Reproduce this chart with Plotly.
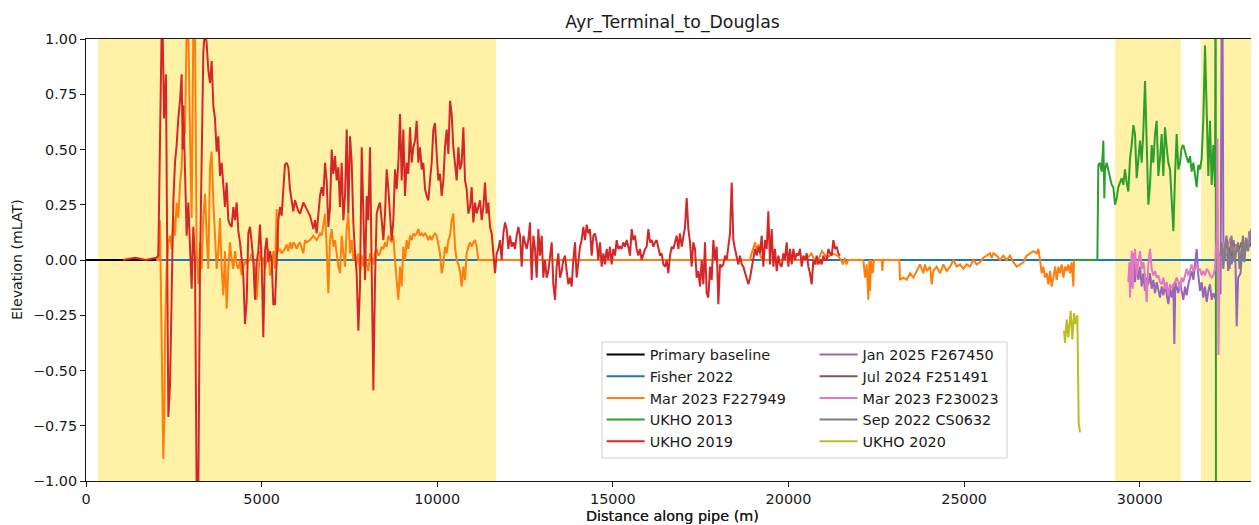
import plotly.graph_objects as go

TITLE = "Ayr_Terminal_to_Douglas"
X_LABEL = "Distance along pipe (m)"
Y_LABEL = "Elevation (mLAT)"

X_TICKS = [0, 5000, 10000, 15000, 20000, 25000, 30000]
Y_TICKS = [-1.0, -0.75, -0.5, -0.25, 0.0, 0.25, 0.5, 0.75, 1.0]

# survey sections shaded along the route (m)
SECTION_NAMES = ["S1", "M1", "S4"]
SECTION_START = [342, 29296, 31744]
SECTION_END = [11673, 31175, 33340]

# ---- survey profiles: distance (m) / elevation (mLAT) ----
BASELINE_X = [0, 33395]
BASELINE_Y = [0.0, 0.0]

FISHER_X = [2000, 33395]
FISHER_Y = [0.0, 0.0]

MAR23A_X = [
    2000, 2059, 2106, 2154, 2182, 2201, 2230, 2249, 2296, 2344,
    2391, 2439, 2486, 2533, 2581, 2628, 2676, 2723, 2771, 2818,
    2866, 2913, 2961, 3008, 3055, 3103, 3150, 3198, 3245, 3293,
    3340, 3388, 3435, 3482, 3530, 3577, 3625, 3672, 3720, 3767,
    3815, 3862, 3910, 3957, 4004, 4052, 4099, 4147, 4194, 4242,
    4289, 4337, 4384, 4431, 4479, 4526, 4574, 4621, 4669, 4716,
    4763, 4811, 4858, 4906, 4953, 5001, 5048, 5096, 5143, 5191,
    5238, 5286, 5333, 5380, 5428, 5475, 5523, 5570, 5618, 5665,
    5713, 5760, 5808, 5855, 5902, 5950, 5997, 6045,
    6093, 6188, 6235, 6283, 6378, 6473, 6568, 6662, 6710, 6757,
    6805, 6852, 6900, 6947, 6995, 7042, 7089, 7137, 7184, 7232,
    7279, 7327, 7374, 7422, 7469, 7517, 7564, 7611, 7659, 7706,
    7754, 7801, 7849, 7896, 7944, 7991, 8038, 8086, 8133, 8181,
    8228, 8276, 8323, 8371, 8418, 8466, 8513, 8560, 8608, 8655,
    8703, 8750, 8798, 8845, 8893, 8940, 8987, 9035, 9082, 9130,
    9177, 9225, 9272, 9320, 9367, 9415, 9462, 9509, 9557, 9604,
    9652, 9699, 9747, 9794, 9842, 9889, 9936, 9984, 10031, 10079,
    10126, 10174, 10221, 10269, 10316, 10364, 10411, 10458, 10506, 10553,
    10601, 10648, 10696, 10743, 10791, 10838, 10885, 10933, 10980, 11028,
    11075, 11123, 11170, 12500, 14000, 15500, 17000, 18900, 18950, 19000,
    19050, 19100, 19150, 19200, 19250, 20500, 20650, 20800, 20950, 21100,
    21250, 21400, 21500, 21550, 21600, 21650, 21700, 22131, 22179, 22226,
    22274, 22302, 22321, 22350, 22397, 22435, 22653, 22672, 22691, 23156,
    23175, 23270, 23365, 23460, 23555, 23650, 23744, 23792, 23839, 23887,
    23934, 24029, 24077, 24124, 24219, 24314, 24409, 24504, 24599, 24693,
    24788, 24883, 24978, 25073, 25168, 25263, 25358, 25453, 25548, 25642,
    25737, 25785, 25832, 25927, 26022, 26117, 26212, 26307, 26402, 26497,
    26591, 26686, 26781, 26876, 26971, 27066, 27113, 27161, 27208, 27256,
    27303, 27351, 27398, 27446, 27493, 27540, 27588, 27635, 27683, 27730,
    27778, 27825, 27873, 27920, 27967, 28015, 28062, 28110, 28129,
]
MAR23A_Y = [
    0.0, 0.0, 0.18, -0.34, -0.72, -0.90, -0.72, -0.34, -0.04, 0.08,
    0.11, 0.05, 0.20, 0.11, 0.26, 0.19, 0.34, 0.42, 0.64, 0.57,
    1.05, 1.05, 0.57, 0.19, 1.05, 1.05, 0.04, -0.11, 0.08, -0.04,
    0.19, 0.30, 0.11, -0.04, 0.42, 0.49, 0.26, 0.11, -0.04, 0.04,
    0.19, -0.04, -0.16, 0.04, -0.22, -0.04, 0.08, 0.0, -0.04, 0.04,
    -0.02, -0.04, 0.0, -0.07, -0.04, 0.0, -0.02, 0.0, 0.0, 0.03,
    0.0, -0.04, -0.18, -0.07, 0.04, 0.0, 0.01, -0.04, 0.0, 0.05,
    -0.07, -0.04, 0.04, -0.04, 0.23, 0.04, 0.05, 0.03, 0.04, 0.05,
    0.07, 0.04, 0.08, 0.05, 0.08, 0.07, 0.05, 0.07,
    0.08, 0.03, 0.09, 0.08, 0.09, 0.11, 0.09, 0.12, 0.11, 0.17,
    0.21, 0.06, -0.15, 0.09, 0.14, 0.06, 0.09, 0.03, -0.03, -0.06,
    0.11, 0.03, -0.03, 0.14, 0.21, 0.03, 0.09, 0.0, 0.03, -0.02,
    0.03, -0.06, 0.02, -0.03, 0.03, -0.02, -0.05, 0.03, 0.0, -0.02,
    0.03, 0.05, 0.02, 0.03, 0.06, 0.05, 0.08, 0.06, 0.11, 0.09,
    0.08, 0.11, 0.0, -0.09, -0.18, -0.03, -0.12, 0.06, 0.0, 0.09,
    0.05, 0.11, 0.09, 0.12, 0.11, 0.12, 0.14, 0.11, 0.12, 0.11,
    0.12, 0.11, 0.09, 0.11, 0.09, 0.11, 0.12, 0.11, 0.06, 0.03,
    -0.06, -0.02, 0.06, 0.03, 0.09, 0.11, 0.18, 0.21, 0.06, 0.0,
    -0.02, -0.05, -0.12, -0.03, -0.09, 0.03, 0.06, 0.08, 0.06, 0.08,
    0.09, 0.06, 0.0, 0.0, 0.0, 0.0, 0.0, 0.0, 0.03, 0.06,
    0.08, 0.04, 0.07, 0.02, 0.0, 0.0, 0.03, -0.02, 0.04, 0.01,
    0.03, 0.02, 0.0, -0.02, 0.01, -0.02, 0.0, 0.0, -0.08, -0.02,
    -0.18, 0.0, -0.14, 0.0, -0.06, 0.0, 0.0, -0.05, 0.0, 0.0,
    -0.09, -0.08, -0.09, -0.06, -0.08, -0.05, -0.02, -0.04, -0.06, -0.02,
    -0.05, -0.03, -0.11, -0.05, -0.03, -0.06, -0.02, -0.05, -0.03, 0.0,
    -0.03, -0.02, -0.04, -0.02, -0.03, 0.0, -0.02, -0.01, 0.01, 0.02,
    0.03, 0.01, 0.03, 0.02, 0.0, 0.02, 0.0, 0.02, -0.01, -0.03,
    -0.02, -0.01, 0.02, 0.03, 0.04, 0.03, 0.05, 0.0, -0.06, -0.03,
    -0.08, -0.06, -0.11, -0.05, -0.12, -0.08, -0.03, -0.09, -0.03, -0.06,
    -0.02, -0.08, -0.03, -0.05, -0.02, -0.06, -0.01, -0.12, 0.0,
]

UKHO13_X = [
    28140, 28793, 28821, 28869, 28916, 28964, 28992, 29011, 29059, 29106,
    29153, 29201, 29248, 29296, 29343, 29391, 29438, 29486, 29533, 29580,
    29628, 29675, 29723, 29770, 29818, 29865, 29913, 29960, 30008, 30055,
    30102, 30150, 30197, 30245, 30292, 30340, 30387, 30435, 30482, 30529,
    30577, 30624, 30672, 30719, 30767, 30814, 30862, 30909, 30957, 31004,
    31051, 31099, 31146, 31194, 31241, 31289, 31336, 31384, 31431, 31478,
    31526, 31573, 31621, 31668, 31716, 31763, 31811, 31858, 31906, 31953,
    32000, 32048, 32095, 32143, 32162, 32171,
]
UKHO13_Y = [
    0.0, 0.0, 0.43, 0.44, 0.40, 0.54, 0.28, 0.41, 0.44, 0.41,
    0.38, 0.34, 0.33, 0.25, 0.28, 0.33, 0.35, 0.37, 0.34, 0.41,
    0.35, 0.31, 0.46, 0.52, 0.61, 0.57, 0.37, 0.44, 0.54, 0.44,
    0.58, 0.81, 0.49, 0.25, 0.34, 0.52, 0.44, 0.57, 0.63, 0.38,
    0.46, 0.57, 0.38, 0.60, 0.51, 0.44, 0.41, 0.29, 0.13, 0.38,
    0.57, 0.41, 0.44, 0.51, 0.52, 0.49, 0.46, 0.44, 0.47, 0.40,
    0.44, 0.38, 0.33, 0.43, 0.41, 0.46, 0.64, 0.97, 0.72, 0.38,
    0.63, 0.34, 0.52, 0.33, 1.6, -1.6,
]

UKHO19_X = [
    1050, 1400, 1700, 2000, 2059, 2106, 2154, 2182, 2220, 2277,
    2296, 2344, 2391, 2439, 2486, 2533, 2581, 2628, 2676, 2723,
    2752, 2771, 2818, 2866, 2913, 2961, 3008, 3055, 3103, 3150,
    3198, 3245, 3293, 3340, 3388, 3435, 3482, 3530, 3577, 3625,
    3672, 3720, 3767, 3815, 3862, 3910, 3957, 4004, 4052, 4099,
    4147, 4194, 4242, 4289, 4337, 4384, 4431, 4479, 4526, 4574,
    4621, 4669, 4716, 4763, 4811, 4858, 4906, 4953, 5001, 5048,
    5096, 5143, 5191, 5238, 5286, 5333, 5380, 5428, 5475, 5523,
    5570, 5618, 5665, 5713, 5760, 5808, 5855, 5902, 5950, 5997, 6045,
    6093, 6188, 6283, 6378, 6473, 6520, 6568, 6615, 6662, 6710,
    6757, 6805, 6852, 6900, 6947, 6995, 7042, 7089, 7137, 7184,
    7232, 7279, 7327, 7374, 7422, 7469, 7517, 7564, 7611, 7659,
    7706, 7754, 7801, 7849, 7896, 7944, 7991, 8038, 8086, 8133,
    8181, 8228, 8276, 8323, 8371, 8418, 8466, 8513, 8560, 8608,
    8655, 8703, 8750, 8798, 8845, 8893, 8940, 8987, 9035, 9082,
    9130, 9177, 9225, 9272, 9320, 9367, 9415, 9462, 9509, 9557,
    9604, 9652, 9699, 9747, 9794, 9842, 9889, 9936, 9984, 10031,
    10079, 10126, 10174, 10221, 10269, 10316, 10364, 10411, 10458, 10506,
    10553, 10601, 10648, 10696, 10743, 10791, 10838, 10885, 10933, 10980,
    11028, 11075, 11123, 11170, 11218, 11265, 11313, 11360, 11407, 11455,
    11502, 11550, 11597, 11645, 11692, 11740,
    11787, 11834, 11882, 11929, 11977, 12024, 12071, 12119, 12166, 12214,
    12261, 12309, 12356, 12404, 12451, 12498, 12546, 12593, 12641, 12688,
    12736, 12783, 12831, 12878, 12925, 12973, 13020, 13068, 13115, 13163,
    13210, 13258, 13305, 13353, 13400, 13447, 13495, 13542, 13590, 13637,
    13685, 13732, 13780, 13827, 13874, 13922, 13969, 14017, 14064, 14112,
    14159, 14207, 14254, 14302, 14349, 14396, 14444, 14491, 14539, 14586,
    14634, 14681, 14729, 14776, 14823, 14871, 14918, 14966, 15013, 15061,
    15108, 15156, 15203, 15250, 15298, 15345, 15393, 15440, 15488, 15535,
    15583, 15630, 15678, 15725, 15772, 15820, 15867, 15915, 15962, 16010,
    16057, 16105, 16152, 16200, 16247, 16294, 16342, 16389, 16437, 16484,
    16532, 16579, 16627, 16674, 16721, 16769, 16816, 16864, 16911, 16959,
    17006, 17054, 17101, 17149, 17196, 17243, 17291, 17338, 17386, 17433,
    17481, 17528, 17576, 17623, 17671, 17718, 17766, 17813, 17861, 17908,
    17956, 18003, 18050, 18098, 18145, 18193, 18240, 18288, 18335, 18383,
    18430, 18477, 18525, 18572, 18620, 18667, 18715, 18762, 18810, 18857,
    18905, 18952, 18999, 19047, 19094, 19142, 19189, 19237, 19284, 19332,
    19379, 19426, 19474, 19521, 19569, 19616, 19664, 19711, 19758, 19806,
    19853, 19901, 19948, 19996, 20043, 20091, 20138, 20186, 20233, 20280,
    20328, 20375, 20423, 20470, 20518, 20565, 20613, 20660, 20708, 20755,
    20802, 20850, 20897, 20945, 20992, 21040, 21087, 21135, 21182, 21230,
    21277, 21324, 21372, 21419, 21467,
]
UKHO19_Y = [
    0.0, 0.01, 0.0, 0.01, 0.02, 0.45, 1.05, 1.05, 0.64, 0.84,
    0.42, -0.71, -0.57, -0.04, 0.26, 0.44, 0.52, 0.64, 0.72, 0.84,
    0.50, 0.70, 0.42, 0.11, 0.26, 0.04, -0.13, 0.15, 0.0, -1.05,
    -1.05, -0.04, 0.50, 0.94, 1.05, 0.98, 0.86, 0.80, 0.90, 0.70,
    0.64, 0.49, 0.56, 0.38, 0.44, 0.34, 0.24, 0.35, 0.18, 0.16,
    0.15, 0.24, 0.18, 0.26, 0.13, 0.08, 0.0, -0.07, -0.29, -0.19,
    0.12, 0.15, 0.08, 0.0, -0.18, -0.01, 0.04, 0.16, 0.0, -0.35,
    0.04, 0.10, -0.01, 0.04, 0.0, -0.20, -0.20, 0.0, 0.18, 0.24,
    0.20, 0.32, 0.43, 0.44, 0.42, 0.32, 0.27, 0.22, 0.27, 0.25, 0.22,
    0.21, 0.26, 0.23, 0.20, 0.14, 0.18, 0.12, 0.21, 0.29, 0.33,
    0.29, 0.44, 0.36, 0.15, 0.24, 0.50, 0.39, 0.47, 0.36, 0.42,
    0.24, 0.44, 0.18, 0.29, 0.59, 0.21, 0.56, 0.44, 0.17, 0.03,
    -0.06, -0.32, -0.12, 0.51, 0.18, -0.09, 0.29, 0.18, 0.51, -0.09,
    -0.59, -0.09, 0.21, 0.24, 0.26, 0.18, 0.09, 0.21, 0.41, 0.32,
    0.21, 0.09, 0.18, 0.41, 0.32, 0.44, 0.66, 0.36, 0.59, 0.29,
    0.44, 0.39, 0.60, 0.44, 0.51, 0.54, 0.63, 0.44, 0.51, 0.41,
    0.44, 0.32, 0.29, 0.27, 0.36, 0.44, 0.59, 0.62, 0.48, 0.36,
    0.39, 0.29, 0.36, 0.51, 0.59, 0.48, 0.72, 0.66, 0.51, 0.44,
    0.36, 0.51, 0.41, 0.44, 0.60, 0.36, 0.32, 0.21, 0.24, 0.33,
    0.17, 0.26, 0.21, 0.24, 0.27, 0.18, 0.24, 0.35, 0.21, 0.26,
    0.15, 0.12, 0.03, -0.06, 0.03, 0.05,
    0.09, 0.0, 0.12, 0.17, 0.14, 0.05, 0.11, 0.06, 0.08, 0.05,
    0.11, 0.15, 0.11, -0.03, 0.11, 0.08, 0.05, 0.09, 0.17, -0.09,
    0.11, 0.05, -0.08, 0.14, 0.02, 0.11, -0.08, 0.0, -0.08, -0.05,
    0.02, 0.08, -0.11, -0.18, -0.03, 0.03, -0.08, -0.05, 0.0, 0.02,
    -0.05, -0.11, -0.08, -0.12, 0.0, 0.08, -0.08, 0.0, 0.06, 0.09,
    0.15, 0.09, 0.16, 0.12, 0.14, 0.02, 0.11, 0.12, 0.08, 0.0,
    0.08, -0.03, 0.03, -0.02, 0.05, 0.0, 0.06, -0.02, 0.05, 0.02,
    0.09, 0.05, 0.06, 0.05, 0.08, 0.06, 0.09, 0.06, 0.02, 0.14,
    0.09, 0.11, 0.05, 0.02, 0.05, 0.0, 0.02, 0.05, 0.06, 0.14,
    0.08, 0.09, 0.06, 0.08, 0.09, 0.05, 0.02, 0.03, -0.02, -0.03,
    0.0, -0.06, 0.02, 0.06, 0.05, 0.08, 0.11, 0.05, 0.12, 0.06,
    0.11, 0.15, 0.28, 0.14, 0.08, -0.03, 0.08, 0.05, -0.08, -0.05,
    -0.12, 0.0, -0.11, 0.08, -0.15, -0.17, -0.03, -0.09, 0.09, 0.0,
    0.06, -0.20, -0.02, -0.03, -0.02, 0.02, 0.0, 0.05, 0.12, 0.35,
    0.09, 0.05, 0.02, -0.02, 0.02, -0.02, -0.03, -0.06, -0.09, -0.11,
    -0.08, -0.03, 0.0, 0.05, 0.02, 0.06, 0.03, 0.11, -0.03, 0.09,
    0.05, 0.22, -0.02, 0.14, -0.03, 0.05, -0.05, 0.02, -0.02, -0.03,
    0.03, 0.0, 0.08, -0.03, 0.05, -0.02, 0.05, 0.0, 0.03, 0.02,
    0.05, -0.03, 0.02, 0.0, 0.03, -0.03, -0.06, -0.11, 0.0, -0.02,
    0.02, -0.02, 0.0, -0.02, 0.02, 0.0, 0.0, 0.05, 0.03, 0.02,
    0.09, 0.05, 0.06, 0.03, 0.02,
]

JAN25_X = [
    29723, 29770, 29818, 29865, 29913, 29960, 30008, 30055, 30102, 30150,
    30197, 30245, 30292, 30340, 30387, 30435, 30482, 30529, 30577, 30624,
    30672, 30719, 30767, 30814, 30862, 30909, 30957, 30985, 31013, 31051,
    31099, 31146, 31194, 31241, 31289, 31336, 31384, 31431, 31478, 31526,
    31573, 31621, 31668, 31716, 31763, 31811, 31858, 31906, 31953, 32000,
    32048, 32095, 32143, 32300, 32345, 32380, 32420, 32470, 32520, 32570,
    32620, 32670, 32720, 32760, 32800, 32870, 32920, 32970, 33020, 33070,
    33120, 33170, 33220, 33270, 33320, 33370,
]
JAN25_Y = [
    -0.05, -0.12, 0.03, -0.10, -0.02, -0.09, -0.03, -0.12, -0.06, -0.14,
    -0.08, -0.11, -0.06, -0.13, -0.09, -0.15, -0.10, -0.13, -0.17, -0.12,
    -0.16, -0.11, -0.15, -0.20, -0.13, -0.17, -0.12, -0.38, -0.10, -0.12,
    -0.15, -0.10, -0.14, -0.18, -0.12, -0.16, -0.11, -0.08, -0.05, -0.09,
    -0.03, 0.05, -0.07, -0.14, -0.10, -0.17, -0.12, -0.19, -0.14, -0.11,
    -0.18, -0.15, -0.17, -0.15, 1.6, 0.10, 0.0, 0.08, -0.05, 0.06,
    -0.02, 0.09, 0.03, -0.30, -0.08, -0.06, 0.05, 0.0, 0.10, 0.04,
    0.13, 0.06, 0.15, 0.08, 0.12, 0.05,
]

JUL24_X = [32400, 32500, 32600, 32700, 32800, 32900, 33000, 33100, 33200, 33300, 33390]
JUL24_Y = [0.03, 0.06, 0.02, 0.07, 0.04, 0.08, 0.05, 0.09, 0.06, 0.10, 0.07]

MAR23B_X = [
    29675, 29704, 29723, 29770, 29799, 29818, 29865, 29913, 29960, 30008,
    30055, 30102, 30150, 30197, 30245, 30292, 30340, 30387, 30435, 30482,
    30529, 30577, 30624, 30672, 30719, 30767, 30814, 30862, 30909, 30957,
    31004, 31051, 31099, 31146, 31194, 31241, 31289, 31336, 31384, 31431,
    31478, 31526, 31573, 31621, 31668, 31716, 31763, 31811, 31858, 31906,
    31953, 32000, 32048, 32095, 32143, 32190, 32210, 32240, 32270, 32333,
    32380, 32475, 32570, 32665, 32760, 32855, 32950, 33044, 33139, 33234,
    33329,
]
MAR23B_Y = [
    -0.10, -0.01, -0.17, 0.04, -0.13, -0.02, 0.05, -0.07, -0.01, 0.04,
    -0.04, -0.01, -0.07, -0.19, -0.02, 0.05, -0.04, -0.07, -0.05, -0.08,
    -0.07, -0.10, -0.11, -0.08, -0.13, -0.10, -0.16, -0.11, -0.13, -0.11,
    -0.10, -0.08, -0.10, -0.13, -0.08, -0.10, -0.07, -0.04, -0.07, -0.04,
    -0.02, -0.05, -0.04, -0.02, -0.05, -0.04, -0.07, -0.05, -0.07, -0.04,
    -0.05, -0.07, -0.08, -0.07, -0.04, 0.10, 0.55, -0.43, 0.02, 0.02,
    0.08, 0.03, 0.10, 0.04, 0.07, 0.02, 0.08, 0.05, 0.12, 0.06,
    0.09,
]

SEP22_X = [
    32290, 32330, 32380, 32420, 32470, 32520, 32560, 32610, 32660, 32700,
    32750, 32800, 32840, 32890, 32940, 32980, 33030, 33080, 33130, 33170,
    33220, 33260, 33310, 33350, 33390,
]
SEP22_Y = [
    0.02, 0.08, -0.04, 0.05, 0.11, 0.02, -0.04, 0.11, 0.04, -0.01,
    0.05, 0.08, -0.04, 0.05, 0.11, -0.01, 0.10, 0.04, 0.08, 0.14,
    0.05, 0.11, 0.12, 0.08, 0.04,
]

UKHO20_X = [27844, 27873, 27920, 27967, 28034, 28081, 28129, 28176, 28224, 28262, 28300]
UKHO20_Y = [-0.32, -0.375, -0.27, -0.35, -0.23, -0.36, -0.24, -0.29, -0.25, -0.74, -0.78]

SERIES = [
    ("Primary baseline", BASELINE_X, BASELINE_Y, "#000000", "legend"),
    ("Fisher 2022", FISHER_X, FISHER_Y, "#1f77b4", "legend"),
    ("Mar 2023 F227949", MAR23A_X, MAR23A_Y, "#ff7f0e", "legend"),
    ("UKHO 2013", UKHO13_X, UKHO13_Y, "#2ca02c", "legend"),
    ("UKHO 2019", UKHO19_X, UKHO19_Y, "#d62728", "legend"),
    ("Jan 2025 F267450", JAN25_X, JAN25_Y, "#9467bd", "legend2"),
    ("Jul 2024 F251491", JUL24_X, JUL24_Y, "#8c564b", "legend2"),
    ("Mar 2023 F230023", MAR23B_X, MAR23B_Y, "#e377c2", "legend2"),
    ("Sep 2022 CS0632", SEP22_X, SEP22_Y, "#7f7f7f", "legend2"),
    ("UKHO 2020", UKHO20_X, UKHO20_Y, "#bcbd22", "legend2"),
]

TEXT = "#1a1a1a"
FONT = "DejaVu Sans"

# the page body adds an 8px margin, so the figure is 8px smaller than the window
W, H = 1251, 517
ML, MT, MB = 78, 31, 44

fig = go.Figure()

# shaded sections behind the profiles
for name, x0, x1 in zip(SECTION_NAMES, SECTION_START, SECTION_END):
    fig.add_vrect(x0=x0, x1=x1, fillcolor="rgba(255,215,0,0.35)", line_width=0, layer="below")
    fig.add_annotation(x=(x0 + x1) / 2, y=0.88, xref="x", yref="y", text=name,
                       showarrow=False, font=dict(size=11.5, color=TEXT, family=FONT))

for name, xs, ys, color, leg in SERIES:
    fig.add_trace(go.Scatter(x=xs, y=ys, mode="lines", name=name, legend=leg,
                             line=dict(color=color, width=2)))

# legend frame (one box around both legend columns)
fig.add_shape(type="rect", xref="paper", yref="paper", x0=0.4399, x1=0.7852, y0=0.052, y1=0.3145,
              fillcolor="rgba(255,255,255,0.8)", line=dict(color="#d0d0d0", width=1), layer="above")

axis_common = dict(
    showgrid=False, zeroline=False, showline=True, linecolor=TEXT, linewidth=1,
    ticks="outside", ticklen=5, tickwidth=1, tickcolor=TEXT,
    tickfont=dict(size=14.4, color=TEXT, family=FONT),
)
legend_common = dict(
    y=0.3222, xanchor="left", yanchor="top", bgcolor="rgba(0,0,0,0)", borderwidth=0,
    font=dict(size=14.4, color=TEXT, family=FONT), itemwidth=38,
)

fig.update_layout(
    width=W, height=H,
    margin=dict(l=ML, r=0, t=MT, b=MB),
    paper_bgcolor="white", plot_bgcolor="white",
    font=dict(family=FONT, size=14.4, color=TEXT),
    title=dict(text=TITLE, x=0.5, xref="paper", xanchor="center",
               y=1 - 14 / H, yref="container", yanchor="middle",
               font=dict(size=17.3, color=TEXT, family=FONT)),
    xaxis=dict(range=[0, 33395], tickmode="array", tickvals=X_TICKS, tickformat="d",
               mirror=True, **axis_common),
    yaxis=dict(range=[-1, 1], tickmode="array", tickvals=Y_TICKS, tickformat=".2f", **axis_common),
    legend=dict(x=0.4396, **legend_common),
    legend2=dict(x=0.6211, **legend_common),
    annotations=[
        dict(text=X_LABEL, x=0.5, y=-35 / 442, xref="paper", yref="paper", showarrow=False,
             xanchor="center", yanchor="middle", font=dict(size=14.4, color=TEXT, family=FONT)),
        dict(text=Y_LABEL, x=-69 / 1173, y=0.5, xref="paper", yref="paper", showarrow=False,
             textangle=-90, xanchor="center", yanchor="middle",
             font=dict(size=14.2, color=TEXT, family=FONT)),
    ],
)

fig.write_html("out.html")
